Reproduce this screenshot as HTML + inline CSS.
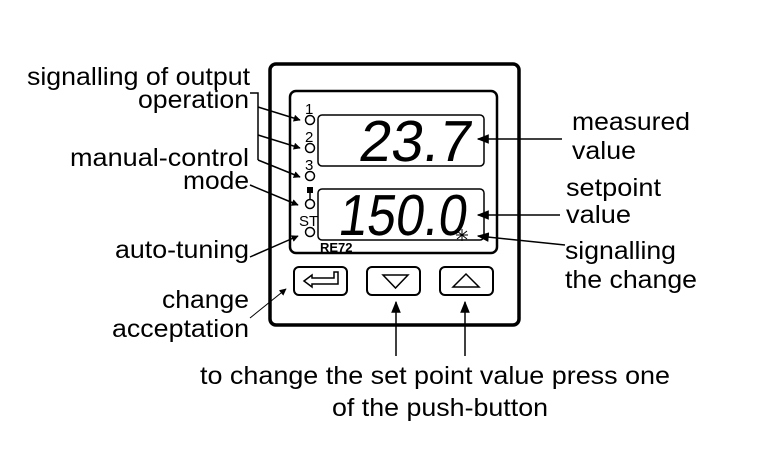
<!DOCTYPE html>
<html><head><style>body{margin:0;background:#fff}svg{display:block}</style></head><body>
<svg width="774" height="453" viewBox="0 0 774 453" xmlns="http://www.w3.org/2000/svg" font-family="Liberation Sans, Arial, sans-serif">
<defs><marker id="a" viewBox="0 0 10 10" refX="9" refY="5" markerWidth="7" markerHeight="7" orient="auto" markerUnits="userSpaceOnUse"><path d="M0,0 L10,5 L0,10 z" fill="#000"/></marker>
<marker id="b" viewBox="0 0 10 10" refX="9" refY="5" markerWidth="12" markerHeight="12" orient="auto" markerUnits="userSpaceOnUse"><path d="M0,1 L10,5 L0,9 z" fill="#000"/></marker></defs>
<rect x="270" y="64" width="249" height="261" rx="6" fill="#fff" stroke="#000" stroke-width="3.5"/>
<rect x="290" y="91" width="207" height="162" rx="6" fill="none" stroke="#000" stroke-width="2.5"/>
<rect x="318" y="115" width="166" height="51" rx="4" fill="none" stroke="#000" stroke-width="1.5"/>
<rect x="318" y="189" width="166" height="51" rx="4" fill="none" stroke="#000" stroke-width="1.5"/>
<g font-size="58" transform="skewX(-8)">
<text x="380" y="161" textLength="112" lengthAdjust="spacingAndGlyphs">23.7</text>
<text x="370" y="235" textLength="128" lengthAdjust="spacingAndGlyphs">150.0</text>
</g>
<g fill="none" stroke="#000" stroke-width="1.5">
<circle cx="310" cy="120" r="4.5"/><circle cx="310" cy="148" r="4.5"/><circle cx="310" cy="176" r="4.5"/><circle cx="310" cy="204" r="4.5"/><circle cx="310" cy="232" r="4.5"/>
</g>
<g font-size="15"><text x="305" y="114">1</text><text x="305" y="142">2</text><text x="305" y="170">3</text><text x="299" y="226">ST</text></g>
<rect x="307" y="187" width="6" height="6" fill="#000"/>
<path d="M310,193 v6" stroke="#000" stroke-width="1.5"/>
<text x="320" y="252" font-size="13" font-weight="bold">RE72</text>
<g stroke="#000" stroke-width="1"><path d="M457,239 l10,-8 M457,231 l10,8 M462,229 v12 M456,235 h12"/></g>
<g fill="none" stroke="#000" stroke-width="2"><rect x="294" y="267" width="53" height="28" rx="5"/><rect x="367" y="267" width="53" height="28" rx="5"/><rect x="440" y="267" width="53" height="28" rx="5"/></g>
<g fill="none" stroke="#000" stroke-width="1.5">
<path d="M304,281 l8,-6 v3 h22 v-6 h4 v12 h-26 v3 z"/>
<path d="M383,275 h25 l-12.5,13 z"/><path d="M453,287 h26 l-13,-13 z"/>
</g>
<g stroke="#000" stroke-width="1.5" fill="none">
<path d="M250,93 h8 v67"/>
<path d="M258,107 L300,120" marker-end="url(#a)"/>
<path d="M258,135 L300,148" marker-end="url(#a)"/>
<path d="M258,160 L300,177" marker-end="url(#a)"/>
<path d="M250,185 L298,205" marker-end="url(#a)"/>
<path d="M250,257 L298,236" marker-end="url(#a)"/>
<path d="M250,318 L286,289" stroke-width="1" marker-end="url(#a)"/>
<path d="M562,139 L478,139" marker-end="url(#b)"/>
<path d="M560,215 L478,215" marker-end="url(#b)"/>
<path d="M565,245 L478,236" marker-end="url(#b)"/>
<path d="M396,356 L396,302" marker-end="url(#b)"/>
<path d="M465,356 L465,302" marker-end="url(#b)"/>
</g>
<g font-size="25">
<text x="27" y="85" textLength="223" lengthAdjust="spacingAndGlyphs">signalling of output</text>
<text x="138" y="108" textLength="111" lengthAdjust="spacingAndGlyphs">operation</text>
<text x="70" y="166" textLength="179" lengthAdjust="spacingAndGlyphs">manual-control</text>
<text x="183" y="189" textLength="66" lengthAdjust="spacingAndGlyphs">mode</text>
<text x="115" y="258" textLength="134" lengthAdjust="spacingAndGlyphs">auto-tuning</text>
<text x="162" y="308" textLength="87" lengthAdjust="spacingAndGlyphs">change</text>
<text x="112" y="337" textLength="137" lengthAdjust="spacingAndGlyphs">acceptation</text>
<text x="572" y="130" textLength="118" lengthAdjust="spacingAndGlyphs">measured</text>
<text x="572" y="159" textLength="64" lengthAdjust="spacingAndGlyphs">value</text>
<text x="566" y="196" textLength="95" lengthAdjust="spacingAndGlyphs">setpoint</text>
<text x="566" y="223" textLength="65" lengthAdjust="spacingAndGlyphs">value</text>
<text x="565" y="259" textLength="111" lengthAdjust="spacingAndGlyphs">signalling</text>
<text x="565" y="288" textLength="132" lengthAdjust="spacingAndGlyphs">the change</text>
<text x="200" y="384" textLength="470" lengthAdjust="spacingAndGlyphs">to change the set point value press one</text>
<text x="332" y="416" textLength="216" lengthAdjust="spacingAndGlyphs">of the push-button</text>
</g>
</svg>
</body></html>
